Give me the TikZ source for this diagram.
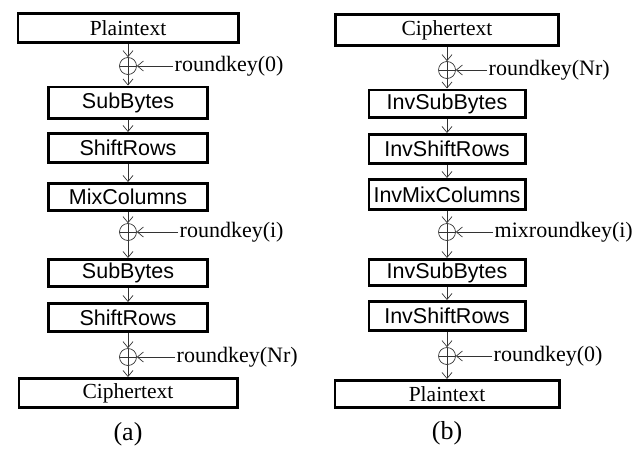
\documentclass[tikz,border=0pt]{standalone}
\usepackage{fontspec}
\setmainfont{Liberation Serif}
\setsansfont{Liberation Sans}
\usetikzlibrary{arrows.meta}
\begin{document}
\begin{tikzpicture}[x=1pt,y=-1pt,
  box/.style={draw, line width=2.8pt, inner sep=0pt, font=\fontsize{21.5}{24}\selectfont\sffamily},
  tbox/.style={box, font=\fontsize{21.5}{24}\selectfont\rmfamily},
  xor/.style={draw, circle, minimum size=17pt, inner sep=0pt, line width=0.7pt, draw=black!80,
    path picture={\draw[line width=0.7pt, black!80] (path picture bounding box.north) -- (path picture bounding box.south)
      (path picture bounding box.west) -- (path picture bounding box.east);}},
  conn/.style={line width=0.7pt, draw=black!80, -{Straight Barb[length=6pt,width=10pt]}},
  key/.style={font=\fontsize{22}{24}\selectfont, inner sep=1.5pt, anchor=west},
  figlabel/.style={font=\fontsize{26}{28}\selectfont}]
\useasboundingbox (0,0) rectangle (644,452);
% ---- (a) ----
\node[tbox, minimum width=220.2pt, minimum height=29.2pt] (pt1) at (128,28) {Plaintext};
\node[xor] (x1) at (128,66) {};
\node[key] (k1) at (173,66) {roundkey(0)};
\node[box, minimum width=159.2pt, minimum height=31.2pt] (sb1) at (128,102.5) {SubBytes};
\node[box, minimum width=159.2pt, minimum height=29.2pt] (sr1) at (128,148) {ShiftRows};
\node[box, minimum width=159.2pt, minimum height=27.2pt] (mc1) at (128,197) {MixColumns};
\node[xor] (x2) at (128,232) {};
\node[key] (k2) at (178,232) {roundkey(i)};
\node[box, minimum width=159.2pt, minimum height=27.2pt] (sb2) at (128,273) {SubBytes};
\node[box, minimum width=159.2pt, minimum height=28.2pt] (sr2) at (128,317.5) {ShiftRows};
\node[xor] (x3) at (128,357) {};
\node[key] (k3) at (175,357) {roundkey(Nr)};
\node[tbox, minimum width=218.2pt, minimum height=29.2pt] (ct1) at (128,393) {Ciphertext};
\node[figlabel] (ca) at (128,434) {(a)};
\draw[conn] (pt1) -- (x1);
\draw[conn] (x1) -- (sb1);
\draw[conn] (sb1) -- (sr1);
\draw[conn] (sr1) -- (mc1);
\draw[conn] (mc1) -- (x2);
\draw[conn] (x2) -- (sb2);
\draw[conn] (sb2) -- (sr2);
\draw[conn] (sr2) -- (x3);
\draw[conn] (x3) -- (ct1);
\draw[conn] (k1) -- (x1);
\draw[conn] (k2) -- (x2);
\draw[conn] (k3) -- (x3);
% ---- (b) ----
\node[tbox, minimum width=223.2pt, minimum height=31.2pt] (ct2) at (447,30) {Ciphertext};
\node[xor] (x4) at (447,70) {};
\node[key] (k4) at (487,70) {roundkey(Nr)};
\node[box, minimum width=156.2pt, minimum height=27.2pt] (isb1) at (447,103.5) {InvSubBytes};
\node[box, minimum width=156.2pt, minimum height=29.2pt] (isr1) at (447,149) {InvShiftRows};
\node[box, minimum width=156.2pt, minimum height=30.2pt] (imc1) at (447,194.5) {InvMixColumns};
\node[xor] (x5) at (447,232) {};
\node[key] (k5) at (493,232) {mixroundkey(i)};
\node[box, minimum width=156.2pt, minimum height=26.2pt] (isb2) at (447,272.5) {InvSubBytes};
\node[box, minimum width=156.2pt, minimum height=29.2pt] (isr2) at (447,316) {InvShiftRows};
\node[xor] (x6) at (447,356) {};
\node[key] (k6) at (492,356) {roundkey(0)};
\node[tbox, minimum width=224.2pt, minimum height=27.2pt] (pt2) at (447,394) {Plaintext};
\node[figlabel] (cb) at (447,433) {(b)};
\draw[conn] (ct2) -- (x4);
\draw[conn] (x4) -- (isb1);
\draw[conn] (isb1) -- (isr1);
\draw[conn] (isr1) -- (imc1);
\draw[conn] (imc1) -- (x5);
\draw[conn] (x5) -- (isb2);
\draw[conn] (isb2) -- (isr2);
\draw[conn] (isr2) -- (x6);
\draw[conn] (x6) -- (pt2);
\draw[conn] (k4) -- (x4);
\draw[conn] (k5) -- (x5);
\draw[conn] (k6) -- (x6);
\end{tikzpicture}
\end{document}
